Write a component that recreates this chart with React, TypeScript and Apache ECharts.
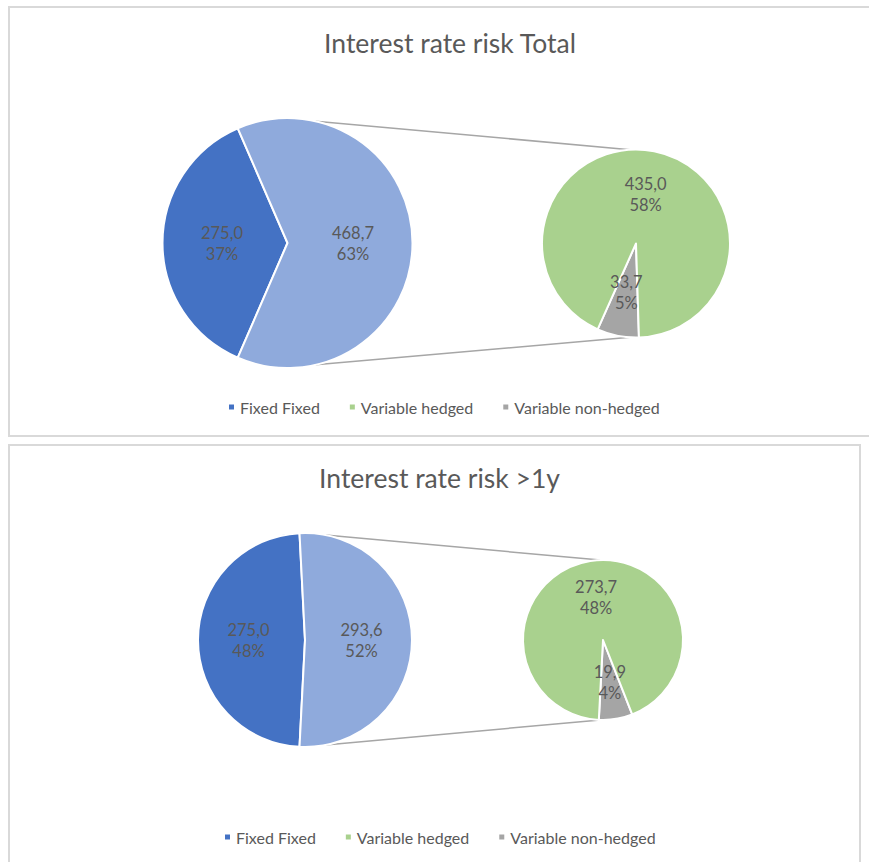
import React, { useEffect, useRef } from 'react';
import * as echarts from 'echarts';

const titles = ['Interest rate risk Total', 'Interest rate risk >1y'];
const legendNames = ['Fixed Fixed', 'Variable hedged', 'Variable non-hedged'];
const otherName = 'Variable';
const fixedValues = [275.0, 275.0];
const hedgedValues = [435.0, 273.7];
const nonHedgedValues = [33.7, 19.9];
const fixedPct = [37, 48];
const otherPct = [63, 52];
const hedgedPct = [58, 48];
const nonHedgedPct = [5, 4];

const COLORS = { fixed: '#4472C4', other: '#8FAADC', hedged: '#A9D18E', non: '#A5A5A5' };
const TEXT = '#595959';
const FONT = 'Lato';

const panels = [
  {
    box: [9, 7, 900, 429], titleX: 445, titleY: 43, legendLeft: 222, legendTop: 394,
    main: { c: [287.5, 243], r: 125 }, second: { c: [636, 243.5], r: 94, start: 271.8 },
    conn: { mainA: 77, secA: 93.6 },
  },
  {
    box: [9, 445, 851, 500], titleX: 434.5, titleY: 478, legendLeft: 218, legendTop: 824,
    main: { c: [305, 640], r: 107 }, second: { c: [603, 640], r: 80, start: 291.4 },
    conn: { mainA: 79, secA: 92 },
  },
];

const fmt = (v: number) => v.toFixed(1).replace('.', ',');

function pt(c: number[], r: number, deg: number) {
  const a = (deg * Math.PI) / 180;
  return [c[0] + r * Math.cos(a), c[1] - r * Math.sin(a)];
}

export default function App() {
  const ref = useRef<HTMLDivElement>(null);
  useEffect(() => {
    if (!ref.current) return;
    const chart = echarts.init(ref.current, null, { renderer: 'svg' });
    const series: any[] = [];
    const graphic: any[] = [];
    const title: any[] = [];
    const legend: any[] = [];
    const label = {
      show: true,
      position: 'inside',
      color: TEXT,
      fontFamily: FONT,
      fontSize: 16.5,
      lineHeight: 21,
      formatter: (p: any) => `${fmt(p.value)}\n${p.data.pct}%`,
    };
    panels.forEach((pn, i) => {
      const other = hedgedValues[i] + nonHedgedValues[i];
      const fixedShare = fixedValues[i] / (fixedValues[i] + other);
      graphic.push({
        type: 'rect', silent: true, z: -10,
        shape: { x: pn.box[0], y: pn.box[1], width: pn.box[2], height: pn.box[3] },
        style: { fill: '#fff', stroke: '#d9d9d9', lineWidth: 2 },
      });
      [1, -1].forEach((s) => {
        const p1 = pt(pn.main.c, pn.main.r, s * pn.conn.mainA);
        const p2 = pt(pn.second.c, pn.second.r, s * pn.conn.secA);
        graphic.push({
          type: 'line', silent: true, z: -5,
          shape: { x1: p1[0], y1: p1[1], x2: p2[0], y2: p2[1] },
          style: { stroke: '#a6a6a6', lineWidth: 1.5 },
        });
      });
      title.push({
        text: titles[i], left: pn.titleX, top: pn.titleY - 19, textAlign: 'center',
        textStyle: { color: TEXT, fontFamily: FONT, fontSize: 26.5, fontWeight: 'normal' },
      });
      legend.push({
        data: legendNames, left: pn.legendLeft, top: pn.legendTop, icon: 'rect',
        itemWidth: 7, itemHeight: 7, itemGap: 28, selectedMode: false,
        textStyle: { color: TEXT, fontFamily: FONT, fontSize: 16 },
      });
      series.push({
        type: 'pie', center: pn.main.c, radius: pn.main.r,
        startAngle: 180 + fixedShare * 180, clockwise: true, silent: true,
        emphasis: { disabled: true },
        itemStyle: { borderColor: '#fff', borderWidth: 2 },
        label, labelLine: { show: false },
        data: [
          { name: legendNames[0], value: fixedValues[i], pct: fixedPct[i], itemStyle: { color: COLORS.fixed } },
          { name: otherName, value: other, pct: otherPct[i], itemStyle: { color: COLORS.other } },
        ],
      });
      series.push({
        type: 'pie', center: pn.second.c, radius: pn.second.r,
        startAngle: pn.second.start, clockwise: true, silent: true,
        emphasis: { disabled: true },
        itemStyle: { borderColor: '#fff', borderWidth: 2 },
        label, labelLine: { show: false },
        data: [
          { name: legendNames[2], value: nonHedgedValues[i], pct: nonHedgedPct[i], itemStyle: { color: COLORS.non } },
          { name: legendNames[1], value: hedgedValues[i], pct: hedgedPct[i], itemStyle: { color: COLORS.hedged } },
        ],
      });
    });
    chart.setOption({
      animation: false,
      backgroundColor: '#fff',
      title, legend, series, graphic,
    });
    return () => chart.dispose();
  }, []);
  return (
    <div
      ref={ref}
      style={{ position: 'absolute', left: 0, top: 0, width: 869, height: 862, background: '#fff' }}
    />
  );
}
